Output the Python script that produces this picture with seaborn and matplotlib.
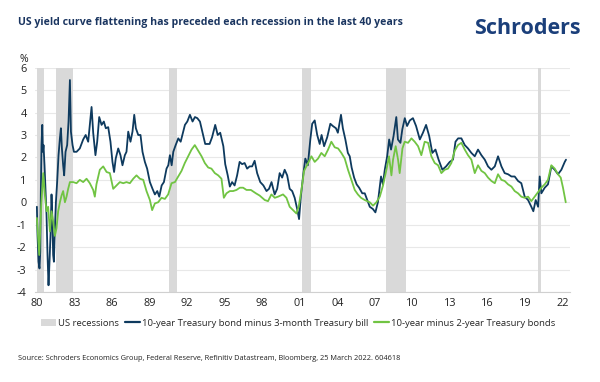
import pandas as pd
import matplotlib
matplotlib.use("Agg")
import matplotlib.pyplot as plt
import seaborn as sns
from matplotlib.patches import Patch
from matplotlib.lines import Line2D

sns.set_theme(style="white")
plt.rcParams["font.family"] = ["Open Sans", "DejaVu Sans"]
plt.rcParams["axes.unicode_minus"] = False

# 1. 数据
rec_start = [1980.0, 1981.5, 1990.55, 2001.2, 2007.92, 2020.08]
rec_end = [1980.58, 1982.88, 1991.22, 2001.87, 2009.47, 2020.28]

bill_years = [1980.0, 1980.05, 1980.13, 1980.21, 1980.27, 1980.32, 1980.37, 1980.43, 1980.48, 1980.53,
              1980.61, 1980.69, 1980.77, 1980.85, 1980.93, 1981.01, 1981.09, 1981.17, 1981.22, 1981.30,
              1981.36, 1981.44, 1981.52, 1981.62, 1981.73, 1981.84, 1981.92, 1982.0, 1982.1, 1982.18,
              1982.29, 1982.42, 1982.53, 1982.64, 1982.72, 1982.85, 1982.96, 1983.17, 1983.43, 1983.7,
              1983.9, 1984.1, 1984.37, 1984.5, 1984.68, 1984.82, 1984.98, 1985.17, 1985.35, 1985.51,
              1985.7, 1985.88, 1986.04, 1986.17, 1986.3, 1986.5, 1986.68, 1986.84, 1987.03, 1987.16,
              1987.3, 1987.48, 1987.64, 1987.78, 1987.91, 1988.1, 1988.28, 1988.44, 1988.63, 1988.81,
              1989.03, 1989.24, 1989.43, 1989.62, 1989.78, 1989.97, 1990.15, 1990.36, 1990.5, 1990.63,
              1990.77, 1990.9, 1991.09, 1991.3, 1991.49, 1991.65, 1991.83, 1992.02, 1992.23, 1992.44,
              1992.63, 1992.82, 1993.03, 1993.2, 1993.45, 1993.8, 1994.0, 1994.25, 1994.45, 1994.65,
              1994.9, 1995.05, 1995.25, 1995.42, 1995.6, 1995.8, 1996.0, 1996.2, 1996.4, 1996.6,
              1996.8, 1997.0, 1997.2, 1997.4, 1997.6, 1997.85, 1998.1, 1998.35, 1998.55, 1998.75,
              1999.0, 1999.2, 1999.4, 1999.6, 1999.8, 2000.0, 2000.2, 2000.4, 2000.6, 2000.8,
              2000.95, 2001.1, 2001.3, 2001.45, 2001.65, 2001.85, 2002.0, 2002.2, 2002.4, 2002.6,
              2002.75, 2002.95, 2003.2, 2003.45, 2003.65, 2003.9, 2004.05, 2004.3, 2004.45, 2004.65,
              2004.85, 2005.0, 2005.15, 2005.35, 2005.55, 2005.75, 2006.0, 2006.2, 2006.4, 2006.6,
              2006.85, 2007.05, 2007.25, 2007.5, 2007.65, 2007.8, 2007.99, 2008.15, 2008.3, 2008.5,
              2008.72, 2008.85, 2009.05, 2009.2, 2009.4, 2009.58, 2009.8, 2010.05, 2010.3, 2010.6,
              2010.85, 2011.1, 2011.35, 2011.6, 2011.85, 2012.1, 2012.4, 2012.7, 2012.99, 2013.25,
              2013.45, 2013.66, 2013.92, 2014.19, 2014.45, 2014.72, 2014.99, 2015.25, 2015.52, 2015.79,
              2016.05, 2016.32, 2016.59, 2016.85, 2017.12, 2017.38, 2017.65, 2017.92, 2018.18, 2018.45,
              2018.71, 2018.98, 2019.25, 2019.51, 2019.67, 2019.86, 2020.05, 2020.18, 2020.31, 2020.58,
              2020.84, 2021.11, 2021.38, 2021.64, 2021.91, 2022.18, 2022.28]
bill_spread = [-0.2, -1.45, -2.65, -2.95, -2.2, 0.6, 2.55, 3.45, 2.25, 2.55,
               1.65, 0.6, -0.55, -2.35, -3.7, -2.65, -1.45, 0.35, -0.4, -2.35,
               -2.65, -1.15, 0.0, 0.9, 2.1, 2.85, 3.3, 2.4, 1.65, 1.2,
               2.25, 2.55, 3.6, 5.45, 3.15, 2.55, 2.25, 2.25, 2.4, 2.8,
               3.0, 2.7, 4.25, 3.1, 2.1, 2.7, 3.8, 3.45, 3.6, 3.3,
               3.35, 2.7, 1.8, 1.35, 1.95, 2.4, 2.1, 1.65, 2.1, 2.25,
               3.15, 2.7, 3.15, 3.9, 3.3, 3.0, 3.0, 2.25, 1.8, 1.5,
               0.9, 0.6, 0.35, 0.5, 0.25, 0.75, 0.9, 1.5, 1.65, 2.1,
               1.65, 2.25, 2.55, 2.85, 2.7, 3.05, 3.45, 3.6, 3.9, 3.6,
               3.8, 3.75, 3.6, 3.2, 2.6, 2.6, 2.9, 3.45, 3.0, 3.1,
               2.5, 1.7, 1.2, 0.7, 0.9, 0.75, 1.2, 1.8, 1.7, 1.75,
               1.5, 1.6, 1.6, 1.85, 1.3, 0.9, 0.75, 0.5, 0.6, 0.9,
               0.35, 0.6, 1.3, 1.1, 1.45, 1.2, 0.6, 0.5, 0.2, -0.3,
               -0.75, 0.3, 1.3, 1.95, 1.65, 2.8, 3.5, 3.65, 3.0, 2.6,
               3.0, 2.5, 2.9, 3.5, 3.4, 3.3, 3.1, 3.9, 3.3, 2.8,
               2.2, 2.05, 1.55, 1.1, 0.8, 0.65, 0.4, 0.4, 0.1, -0.2,
               -0.3, -0.45, 0.0, 1.15, 0.8, 1.45, 2.05, 2.8, 2.35, 2.95,
               3.8, 2.8, 2.65, 3.25, 3.75, 3.4, 3.65, 3.75, 3.4, 2.8,
               3.1, 3.45, 2.95, 2.2, 2.35, 1.9, 1.45, 1.6, 1.8, 1.9,
               2.7, 2.85, 2.85, 2.55, 2.4, 2.2, 2.05, 2.35, 2.1, 1.9,
               1.6, 1.45, 1.6, 2.05, 1.6, 1.3, 1.25, 1.15, 1.15, 0.95,
               0.85, 0.25, 0.1, -0.2, -0.4, 0.1, -0.2, 1.15, 0.4, 0.65,
               0.8, 1.6, 1.45, 1.25, 1.45, 1.8, 1.9]

bond_years = [1980.0, 1980.19, 1980.35, 1980.51, 1980.64, 1980.77, 1980.9, 1981.04, 1981.17, 1981.3,
              1981.44, 1981.57, 1981.7, 1981.84, 1981.97, 1982.1, 1982.24, 1982.37, 1982.5, 1982.64,
              1982.9, 1983.17, 1983.43, 1983.7, 1983.97, 1984.23, 1984.5, 1984.63, 1984.76, 1985.03,
              1985.3, 1985.57, 1985.83, 1986.1, 1986.37, 1986.63, 1986.9, 1987.16, 1987.43, 1987.7,
              1987.96, 1988.23, 1988.5, 1988.76, 1989.03, 1989.21, 1989.43, 1989.69, 1989.96, 1990.23,
              1990.49, 1990.76, 1991.03, 1991.29, 1991.56, 1991.82, 1992.09, 1992.36, 1992.62, 1992.89,
              1993.16, 1993.42, 1993.69, 1993.95, 1994.22, 1994.49, 1994.75, 1994.94, 1995.15, 1995.42,
              1995.68, 1995.95, 1996.22, 1996.48, 1996.75, 1997.1, 1997.5, 1997.8, 1998.21, 1998.47,
              1998.74, 1999.01, 1999.27, 1999.67, 1999.94, 2000.2, 2000.47, 2000.74, 2000.92, 2001.14,
              2001.35, 2001.67, 2001.94, 2002.2, 2002.47, 2002.73, 2003.0, 2003.27, 2003.53, 2003.8,
              2004.07, 2004.33, 2004.6, 2004.86, 2005.13, 2005.4, 2005.65, 2005.9, 2006.2, 2006.6,
              2006.86, 2007.13, 2007.4, 2007.66, 2007.93, 2008.14, 2008.33, 2008.46, 2008.67, 2008.86,
              2008.99, 2009.21, 2009.39, 2009.66, 2009.93, 2010.19, 2010.46, 2010.72, 2010.99, 2011.26,
              2011.52, 2011.79, 2012.06, 2012.32, 2012.59, 2012.85, 2013.12, 2013.39, 2013.65, 2013.92,
              2014.19, 2014.45, 2014.72, 2014.99, 2015.25, 2015.52, 2015.79, 2016.05, 2016.32, 2016.59,
              2016.85, 2017.12, 2017.38, 2017.65, 2017.92, 2018.18, 2018.45, 2018.71, 2018.98, 2019.25,
              2019.51, 2019.78, 2020.05, 2020.31, 2020.58, 2020.84, 2021.11, 2021.38, 2021.64, 2021.86,
              2022.04, 2022.26]
bond_spread = [-0.7, -2.35, -0.1, 1.3, 0.3, -0.4, -0.2, -1.3, -0.4, -0.85,
               -1.5, -1.15, -0.4, 0.0, 0.3, 0.5, 0.0, 0.25, 0.6, 0.9,
               0.9, 0.85, 1.0, 0.9, 1.05, 0.85, 0.55, 0.25, 0.8, 1.45,
               1.6, 1.35, 1.3, 0.6, 0.75, 0.9, 0.85, 0.9, 0.85, 1.05,
               1.2, 1.05, 1.0, 0.5, 0.1, -0.35, -0.05, 0.0, 0.2, 0.15,
               0.35, 0.85, 0.9, 1.15, 1.4, 1.75, 2.05, 2.35, 2.55, 2.3,
               2.05, 1.75, 1.55, 1.5, 1.3, 1.2, 1.05, 0.2, 0.4, 0.5,
               0.5, 0.55, 0.65, 0.65, 0.55, 0.55, 0.4, 0.3, 0.1, 0.05,
               0.35, 0.2, 0.25, 0.35, 0.2, -0.2, -0.35, -0.5, -0.2, 0.55,
               1.4, 1.75, 2.05, 1.8, 1.95, 2.2, 2.05, 2.35, 2.7, 2.45,
               2.4, 2.2, 1.95, 1.45, 1.0, 0.55, 0.35, 0.2, 0.1, 0.0,
               -0.15, 0.0, 0.25, 0.75, 1.45, 2.05, 1.2, 1.9, 2.5, 1.9,
               1.3, 2.4, 2.7, 2.65, 2.85, 2.7, 2.5, 2.1, 2.7, 2.65,
               2.05, 1.75, 1.65, 1.3, 1.45, 1.5, 1.75, 2.3, 2.55, 2.65,
               2.35, 2.1, 1.9, 1.3, 1.65, 1.4, 1.3, 1.1, 0.95, 0.85,
               1.25, 1.0, 0.95, 0.8, 0.7, 0.5, 0.4, 0.25, 0.2, 0.25,
               0.05, 0.25, 0.45, 0.65, 0.8, 1.0, 1.65, 1.5, 1.25, 1.1,
               0.65, 0.0]

x_ticks = list(range(1980, 2023, 3))
x_labels = [str(y)[2:] for y in x_ticks]
y_ticks = list(range(-4, 7))

navy = "#0e3a5e"
green = "#71c443"
grey = "#d9d9d9"

bill_df = pd.DataFrame({"year": bill_years, "spread": bill_spread})
bond_df = pd.DataFrame({"year": bond_years, "spread": bond_spread})

# 2. 画图
fig = plt.figure(figsize=(6, 3.82), dpi=100)
ax = fig.add_axes([35 / 600, 1 - 292 / 382, 535 / 600, 224.3 / 382])
ax.set_axisbelow(True)

for s, e in zip(rec_start, rec_end):
    ax.axvspan(s, e, color=grey, lw=0, zorder=1)

sns.lineplot(data=bill_df, x="year", y="spread", color=navy, linewidth=1.3, ax=ax, zorder=3)
sns.lineplot(data=bond_df, x="year", y="spread", color=green, linewidth=1.3, ax=ax, zorder=4)

ax.set_xlim(1979.85, 2022.6)
ax.set_ylim(-4, 6)
ax.set_xticks(x_ticks)
ax.set_xticklabels(x_labels)
ax.set_yticks(y_ticks)
ax.set_xlabel("")
ax.set_ylabel("")
ax.yaxis.grid(True, color="#e8e8e8", linewidth=0.8)
ax.xaxis.grid(False)
for side in ["top", "right", "left"]:
    ax.spines[side].set_visible(False)
ax.spines["bottom"].set_color("#d0d0d0")
ax.spines["bottom"].set_linewidth(0.8)
ax.tick_params(axis="both", length=0, labelsize=7.8, colors="#222222")
ax.tick_params(axis="y", pad=6)
ax.tick_params(axis="x", pad=4)

fig.text(18 / 600, 1 - 23 / 382, "US yield curve flattening has preceded each recession in the last 40 years",
         fontsize=7.6, fontweight="bold", color="#1a3560", va="center")
fig.text(581 / 600, 1 - 28 / 382, "Schroders", fontsize=15.5, fontweight="bold", color="#1b3f7a",
         ha="right", va="center")
fig.text(19 / 600, 1 - 59 / 382, "%", fontsize=7.5, color="#222222", va="center")

handles = [Patch(facecolor=grey, edgecolor="none"),
           Line2D([0], [0], color=navy, lw=1.6),
           Line2D([0], [0], color=green, lw=1.6)]
labels = ["US recessions", "10-year Treasury bond minus 3-month Treasury bill",
          "10-year minus 2-year Treasury bonds"]
fig.legend(handles, labels, loc="center", bbox_to_anchor=(0.497, 1 - 323 / 382), ncol=3,
           frameon=False, fontsize=6.8, handlelength=1.6, handletextpad=0.2, columnspacing=0.6)

fig.text(18 / 600, 1 - 358 / 382,
         "Source: Schroders Economics Group, Federal Reserve, Refinitiv Datastream, Bloomberg, 25 March 2022. 604618",
         fontsize=5.3, color="#222222", va="center")

plt.savefig("out.png", dpi=100)
plt.close()
